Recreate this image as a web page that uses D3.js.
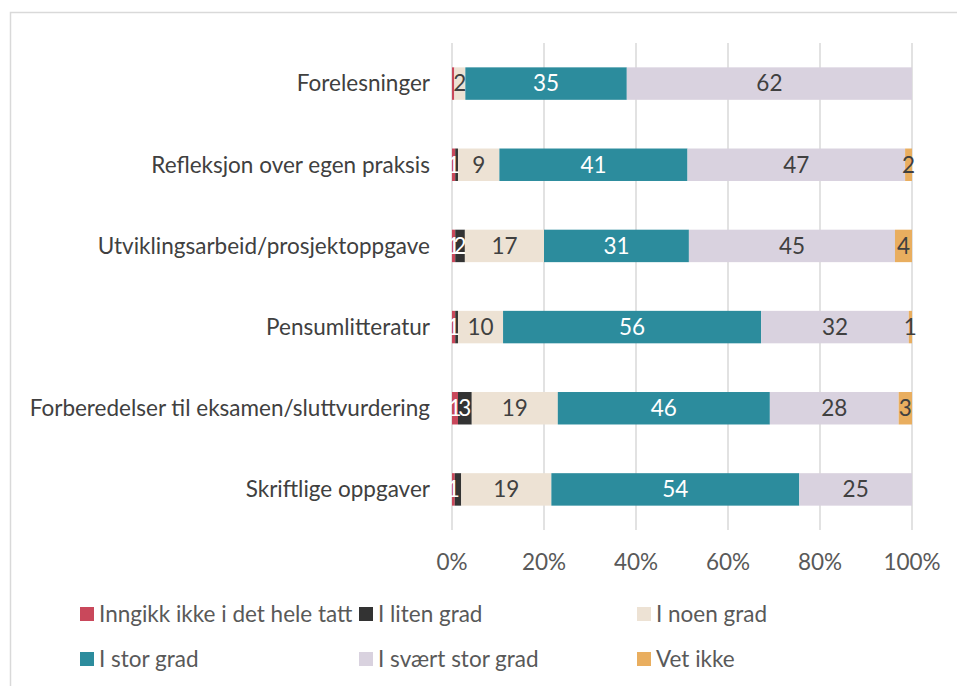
<!DOCTYPE html>
<html>
<head>
<meta charset="utf-8">
<script src="https://cdn.jsdelivr.net/npm/d3@7"></script>
<style>
  body { margin: 0; background: #fff; }
  svg text { font-family: Lato, "Open Sans", sans-serif; }
</style>
</head>
<body>
<div id="chart"></div>
<script>
var categories = ["Forelesninger", "Refleksjon over egen praksis", "Utviklingsarbeid/prosjektoppgave",
  "Pensumlitteratur", "Forberedelser til eksamen/sluttvurdering", "Skriftlige oppgaver"];

var seriesNames = ["Inngikk ikke i det hele tatt", "I liten grad", "I noen grad", "I stor grad", "I svært stor grad", "Vet ikke"];

// percent per category, in category order
var ikkeIDetHele = [0.5, 0.7, 0.7, 0.7, 1.3, 0.6];
var litenGrad    = [0, 0.6, 2.1, 0.6, 3, 1.4];
var noenGrad     = [2.4, 9, 17.2, 9.8, 18.7, 19.6];
var storGrad     = [35.1, 40.9, 31.5, 56.1, 46.1, 53.9];
var svaertStor   = [62, 47.3, 44.8, 32.1, 28, 24.5];
var vetIkke      = [0, 1.5, 3.7, 0.7, 2.9, 0];

var labels = [
  ["", "1", "1", "1", "1", "1"],
  ["", "", "2", "", "3", ""],
  ["2", "9", "17", "10", "19", "19"],
  ["35", "41", "31", "56", "46", "54"],
  ["62", "47", "45", "32", "28", "25"],
  ["", "2", "4", "1", "3", ""]
];

var ticks = [0, 20, 40, 60, 80, 100];

var colors = ["#C9485B", "#333333", "#EDE2D4", "#2C8C9D", "#D9D2DF", "#E9AE5F"];
var labelColors = ["#fff", "#fff", "#404040", "#fff", "#404040", "#404040"];

var values = [ikkeIDetHele, litenGrad, noenGrad, storGrad, svaertStor, vetIkke];

var rows = categories.map(function(c, i) {
  var o = {cat: c};
  seriesNames.forEach(function(s, j) { o[s] = values[j][i]; });
  return o;
});

var stacked = d3.stack().keys(seriesNames)(rows);

var W = 957, H = 686;
var fs = "22.5px";
var svg = d3.select("#chart").append("svg").attr("width", W).attr("height", H);

// chart border
svg.append("rect")
  .attr("x", 10.5).attr("y", 12.5)
  .attr("width", 980).attr("height", 700)
  .attr("fill", "none").attr("stroke", "#D9D9D9").attr("stroke-width", 1.5);

var x = d3.scaleLinear().domain([0, 100]).range([452, 912]);
var y = d3.scaleBand().domain(categories).range([43, 530]).paddingInner(0.6).paddingOuter(0.3);

// gridlines
svg.append("g").selectAll("line")
  .data(ticks)
  .enter().append("line")
  .attr("x1", function(d){ return x(d); })
  .attr("x2", function(d){ return x(d); })
  .attr("y1", 43).attr("y2", 530)
  .attr("stroke", "#D9D9D9").attr("stroke-width", 1.5);

// bars
var layer = svg.append("g").selectAll("g")
  .data(stacked)
  .enter().append("g")
  .attr("fill", function(d, i){ return colors[i]; });

layer.selectAll("rect")
  .data(function(d){ return d; })
  .enter().append("rect")
  .attr("x", function(d){ return x(d[0]); })
  .attr("y", function(d){ return y(d.data.cat); })
  .attr("width", function(d){ return x(d[1]) - x(d[0]); })
  .attr("height", y.bandwidth());

// data labels
stacked.forEach(function(s, i) {
  svg.append("g").selectAll("text")
    .data(s)
    .enter().append("text")
    .attr("x", function(d){ return (x(d[0]) + x(d[1])) / 2; })
    .attr("y", function(d){ return y(d.data.cat) + y.bandwidth() / 2; })
    .attr("dy", "0.35em")
    .attr("text-anchor", "middle")
    .attr("font-size", fs)
    .attr("fill", labelColors[i])
    .text(function(d, j){ return labels[i][j]; });
});

// category labels
svg.append("g").selectAll("text")
  .data(categories)
  .enter().append("text")
  .attr("x", 430)
  .attr("y", function(d){ return y(d) + y.bandwidth() / 2; })
  .attr("dy", "0.35em")
  .attr("text-anchor", "end")
  .attr("font-size", fs)
  .attr("fill", "#404040")
  .text(function(d){ return d; });

// x axis labels
svg.append("g").selectAll("text")
  .data(ticks)
  .enter().append("text")
  .attr("x", function(d){ return x(d); })
  .attr("y", 562)
  .attr("dy", "0.35em")
  .attr("text-anchor", "middle")
  .attr("font-size", fs)
  .attr("fill", "#595959")
  .text(function(d){ return d + "%"; });

// legend
var legendPos = [[80, 614], [359, 614], [637, 614], [80, 659], [359, 659], [637, 659]];
var legend = svg.append("g").selectAll("g")
  .data(seriesNames)
  .enter().append("g")
  .attr("transform", function(d, i){ return "translate(" + legendPos[i][0] + "," + legendPos[i][1] + ")"; });

legend.append("rect")
  .attr("x", 0).attr("y", -7)
  .attr("width", 14).attr("height", 14)
  .attr("fill", function(d, i){ return colors[i]; });

legend.append("text")
  .attr("x", 19).attr("y", 0)
  .attr("dy", "0.35em")
  .attr("font-size", fs)
  .attr("fill", "#595959")
  .text(function(d){ return d; });
</script>
</body>
</html>
